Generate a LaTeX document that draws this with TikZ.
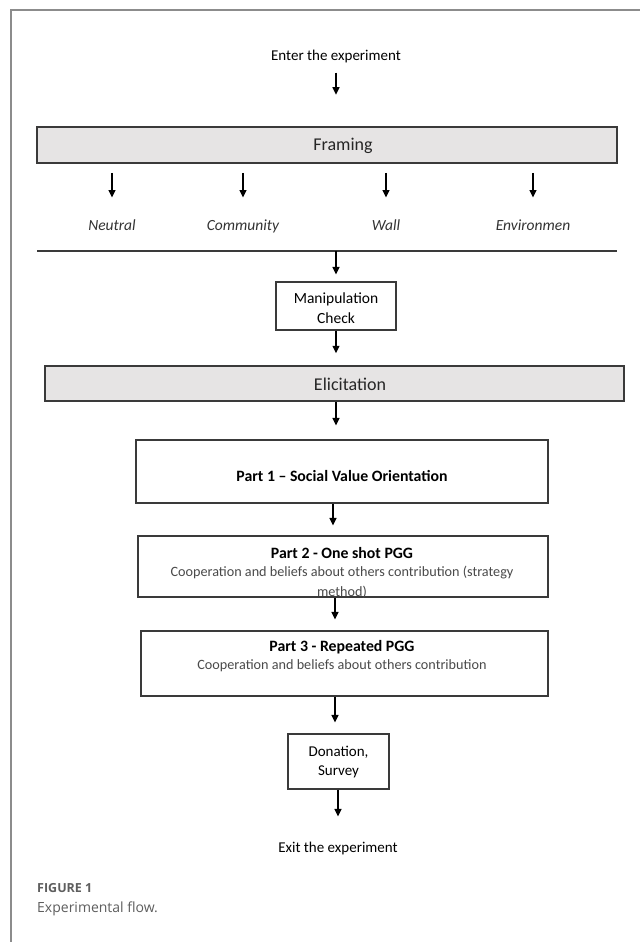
\documentclass[tikz,border=0pt]{standalone}
\usepackage{fontspec}
\setmainfont{Carlito}
\newfontfamily\capfont{Open Sans}
\usetikzlibrary{arrows.meta}
\definecolor{framegray}{HTML}{8C8C8C}
\definecolor{boxline}{HTML}{3A3A3A}
\definecolor{bandfill}{HTML}{E6E4E4}
\definecolor{subtext}{HTML}{4A4A4A}
\definecolor{captext}{HTML}{5E5E5E}
\tikzset{
  boxnode/.style={draw=boxline, line width=1.3pt, fill=white, inner sep=0pt},
  bandnode/.style={draw=boxline, line width=1.5pt, fill=bandfill, inner sep=0pt},
  txt/.style={inner sep=0pt, font=\fontsize{15}{18}\selectfont, text=black},
  bandtxt/.style={inner sep=0pt, font=\fontsize{18}{21}\selectfont, text=black!85},
  labtxt/.style={inner sep=0pt, font=\fontsize{15.5}{18}\itshape\selectfont, text=black!80, text height=11pt, text depth=3.5pt},
  titletxt/.style={inner sep=0pt, font=\fontsize{15.8}{18}\bfseries\selectfont, text=black},
  subtxt/.style={inner sep=0pt, font=\fontsize{14.2}{17}\selectfont, text=subtext},
  arr/.style={-{Triangle[length=7.5pt,width=7pt]}, line width=1.4pt, black}
}
\begin{document}
\begin{tikzpicture}[x=1pt,y=-1pt]
\useasboundingbox (0,0) rectangle (640,942);
\fill[white] (0,0) rectangle (640,942);
\draw[framegray, line width=2pt] (11,942) -- (11,10) -- (640,10);

% top
\node[txt] (enter) at (336,57) {Enter the experiment};
\node[bandnode, minimum width=580pt, minimum height=36pt] (framing) at (327,145) {};
\node[bandtxt] (framingt) at (343,146) {Framing};
\draw[arr] ([yshift=-9pt]enter.south) -- ([yshift=-31pt]enter.south);

% framing conditions
\node[labtxt] (neutral) at (112,227) {Neutral};
\node[labtxt] (community) at (243,227) {Community};
\node[labtxt] (wall) at (386,227) {Wall};
\node[labtxt] (environ) at (533,227) {Environmen};
\foreach \n in {neutral,community,wall,environ}{
  \draw[arr] ([yshift=-9pt]framing.south -| \n) -- ([yshift=22pt]\n.north);
}
\coordinate (lineL) at (37,251);
\coordinate (lineR) at (617,251);
\draw[boxline, line width=1.3pt] (lineL) -- (lineR);
\coordinate (split) at (336,251);

% manipulation check
\node[boxnode, minimum width=120pt, minimum height=48pt] (manip) at (336,306) {};
\node[txt, font=\fontsize{15.5}{20}\selectfont, align=center] (manipt) at (336,308) {Manipulation\\Check};
\draw[arr] (split) -- ([yshift=7pt]manip.north);

% elicitation
\node[bandnode, minimum width=579pt, minimum height=35pt] (elicit) at (334.5,383.5) {};
\node[bandtxt] (elicitt) at (350,384) {Elicitation};
\draw[arr] (manip.south) -- ([yshift=12pt]elicit.north -| manip);

% part 1
\node[boxnode, minimum width=412pt, minimum height=63pt] (part1) at (342,471.5) {};
\node[titletxt] (part1t) at (342,476) {Part 1 -- Social Value Orientation};
\draw[arr] (elicit.south -| manip) -- ([yshift=14pt]part1.north -| manip);

% part 2
\node[boxnode, minimum width=410pt, minimum height=61pt] (part2) at (343,566.5) {};
\node[titletxt] (part2t) at (342,553) {Part 2 - One shot PGG};
\node[subtxt] (part2s) at (342,573) {Cooperation and beliefs about others contribution (strategy};
\begin{scope}
\clip (part2.north west) rectangle (part2.south east);
\node[subtxt] (part2m) at (342,592) {method)};
\end{scope}
\draw[arr] (part1.south -| 333,0) -- ([yshift=10pt]part2.north -| 333,0);

% part 3
\node[boxnode, minimum width=407pt, minimum height=65pt] (part3) at (344.5,663.5) {};
\node[titletxt] (part3t) at (342,647) {Part 3 - Repeated PGG};
\node[subtxt] (part3s) at (342,666) {Cooperation and beliefs about others contribution};
\draw[arr] (part2.south -| 335,0) -- ([yshift=11pt]part3.north -| 335,0);

% donation
\node[boxnode, minimum width=101pt, minimum height=55pt] (donation) at (338.5,761.5) {};
\node[txt, font=\fontsize{15}{19}\selectfont, align=center] (donationt) at (338.5,762) {Donation,\\Survey};
\draw[arr] (part3.south -| 335,0) -- ([yshift=11pt]donation.north -| 335,0);

\node[txt] (exit) at (338,848) {Exit the experiment};
\draw[arr] (donation.south -| 338,0) -- ([yshift=25pt]exit.north -| 338,0);

% caption
\node[anchor=west, inner sep=0pt, text=captext, font=\capfont\bfseries\fontsize{12.5}{14}\selectfont] (fig) at (37,888) {FIGURE 1};
\node[anchor=west, inner sep=0pt, text=captext, font=\capfont\fontsize{14}{16}\selectfont] (cap) at (37,909) {Experimental flow.};
\end{tikzpicture}
\end{document}
